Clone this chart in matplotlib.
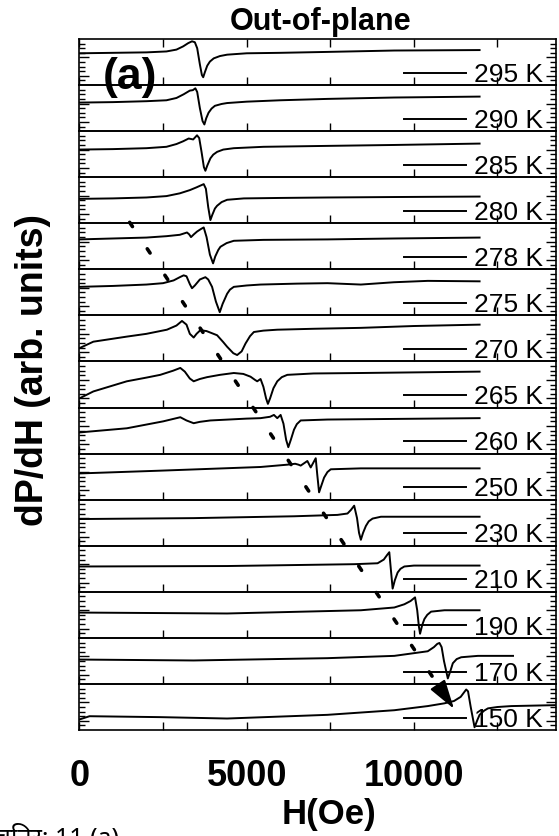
import matplotlib.pyplot as plt
from matplotlib.patches import ConnectionPatch

plt.rcParams['font.family'] = ['Liberation Sans', 'DejaVu Sans']

# ---------- data ----------
temps = [295, 290, 285, 280, 278, 275, 270, 265, 260, 250, 230, 210, 190, 170, 150]

# H in Oe, signal in panel units (0 = bottom of panel, 1 = top)
h_295 = [0, 1000, 2000, 2600, 2900, 3100, 3250, 3365, 3450, 3520, 3600, 3660, 3700, 3750, 3820,
         3900, 4015, 4200, 4415, 5000, 6000, 7415, 9415, 11965]
y_295 = [0.69, 0.70, 0.71, 0.73, 0.77, 0.84, 0.91, 0.95, 0.93, 0.80, 0.45, 0.22, 0.17, 0.28, 0.42,
         0.51, 0.58, 0.63, 0.66, 0.69, 0.70, 0.72, 0.75, 0.76]

h_290 = [0, 1000, 2000, 2600, 2900, 3115, 3300, 3390, 3465, 3520, 3600, 3680, 3735, 3790, 3860,
         3950, 4050, 4250, 4415, 5000, 6000, 7415, 9415, 11965]
y_290 = [0.62, 0.63, 0.65, 0.67, 0.72, 0.80, 0.88, 0.89, 0.93, 0.85, 0.50, 0.22, 0.145, 0.28, 0.40,
         0.49, 0.55, 0.59, 0.61, 0.64, 0.67, 0.70, 0.73, 0.75]

h_285 = [0, 1000, 2000, 2600, 2900, 3100, 3265, 3400, 3515, 3580, 3650, 3720, 3765, 3820, 3915,
         4000, 4115, 4300, 4615, 5500, 7415, 9415, 11965]
y_285 = [0.60, 0.61, 0.63, 0.66, 0.72, 0.78, 0.84, 0.82, 0.91, 0.85, 0.55, 0.22, 0.14, 0.25, 0.41,
         0.49, 0.55, 0.60, 0.63, 0.66, 0.68, 0.70, 0.73]

h_280 = [0, 1000, 2000, 2600, 3000, 3300, 3500, 3715, 3780, 3850, 3915, 3970, 4050, 4115, 4250,
         4415, 4915, 6000, 7415, 9415, 11965]
y_280 = [0.53, 0.54, 0.56, 0.59, 0.65, 0.72, 0.78, 0.85, 0.75, 0.35, 0.07, 0.18, 0.32, 0.38, 0.46,
         0.51, 0.54, 0.55, 0.56, 0.57, 0.58]

h_278 = [0, 1000, 2000, 2600, 3000, 3215, 3280, 3335, 3420, 3515, 3620, 3715, 3800, 3900, 3995,
         4060, 4150, 4215, 4400, 4615, 5500, 7415, 9415, 11965]
y_278 = [0.65, 0.67, 0.69, 0.72, 0.75, 0.80, 0.76, 0.70, 0.76, 0.82, 0.87, 0.91, 0.70, 0.32, 0.13,
         0.28, 0.42, 0.49, 0.57, 0.62, 0.64, 0.65, 0.67, 0.69]

h_275 = [0, 1000, 2000, 2500, 2815, 3000, 3115, 3200, 3300, 3365, 3450, 3600, 3765, 3850, 3965,
         4080, 4195, 4280, 4415, 4500, 4615, 5000, 5415, 6500, 7415, 8415, 9400, 10415, 11965]
y_275 = [0.62, 0.64, 0.67, 0.70, 0.76, 0.83, 0.87, 0.85, 0.68, 0.59, 0.65, 0.78, 0.83, 0.78, 0.62,
         0.30, 0.07, 0.25, 0.47, 0.56, 0.62, 0.65, 0.67, 0.69, 0.70, 0.67, 0.72, 0.75, 0.74]

h_270 = [0, 415, 1415, 2000, 2615, 2900, 3065, 3200, 3300, 3415, 3500, 3615, 3800, 4115, 4300,
         4415, 4600, 4715, 4850, 4965, 5100, 5215, 5500, 5915, 7000, 8415, 10000, 11965]
y_270 = [0.29, 0.43, 0.54, 0.60, 0.69, 0.78, 0.88, 0.80, 0.60, 0.52, 0.60, 0.68, 0.66, 0.57, 0.42,
         0.32, 0.18, 0.14, 0.22, 0.39, 0.55, 0.64, 0.67, 0.69, 0.71, 0.73, 0.77, 0.80]

h_265 = [0, 415, 1415, 2000, 2415, 2800, 3015, 3150, 3300, 3415, 3600, 3815, 4200, 4615, 4900,
         5115, 5250, 5315, 5415, 5500, 5580, 5635, 5700, 5800, 5915, 6050, 6215, 7000, 8415, 11965]
y_265 = [0.20, 0.35, 0.57, 0.65, 0.71, 0.80, 0.86, 0.78, 0.63, 0.57, 0.62, 0.66, 0.71, 0.75, 0.73,
         0.67, 0.60, 0.57, 0.62, 0.45, 0.20, 0.08, 0.20, 0.42, 0.57, 0.66, 0.71, 0.74, 0.75, 0.78]

h_260 = [0, 1415, 2500, 3015, 3200, 3415, 3600, 3915, 5000, 5415, 5700, 5815, 5915, 6015, 6100,
         6180, 6245, 6320, 6415, 6500, 6615, 7415, 11965]
y_260 = [0.46, 0.55, 0.70, 0.79, 0.72, 0.66, 0.69, 0.72, 0.76, 0.77, 0.80, 0.84, 0.77, 0.84, 0.65,
         0.30, 0.14, 0.30, 0.52, 0.64, 0.72, 0.74, 0.77]

h_250 = [0, 2415, 5415, 6215, 6450, 6550, 6615, 6815, 6915, 6990, 7065, 7110, 7165, 7230, 7315,
         7415, 7515, 8415, 11965]
y_250 = [0.57, 0.63, 0.71, 0.76, 0.78, 0.76, 0.74, 0.84, 0.70, 0.80, 0.90, 0.55, 0.16, 0.30, 0.48,
         0.60, 0.66, 0.68, 0.68]

h_230 = [0, 3415, 6415, 7715, 8015, 8120, 8215, 8300, 8360, 8415, 8480, 8565, 8650, 8765, 9015, 11965]
y_230 = [0.58, 0.60, 0.64, 0.67, 0.70, 0.78, 0.87, 0.60, 0.28, 0.13, 0.28, 0.43, 0.53, 0.59, 0.63, 0.63]

h_210 = [0, 4415, 8215, 8915, 9100, 9200, 9265, 9310, 9365, 9430, 9515, 9600, 9715, 10000, 11965]
y_210 = [0.55, 0.56, 0.60, 0.62, 0.70, 0.80, 0.86, 0.50, 0.07, 0.25, 0.42, 0.50, 0.55, 0.57, 0.57]

h_190 = [0, 4415, 8415, 9415, 9715, 9900, 10035, 10100, 10150, 10185, 10250, 10315, 10400, 10515,
         10915, 11965]
y_190 = [0.55, 0.53, 0.60, 0.66, 0.73, 0.80, 0.88, 0.60, 0.25, 0.09, 0.28, 0.41, 0.50, 0.57,
         0.60, 0.60]

h_170 = [0, 3415, 7415, 9415, 10415, 10600, 10700, 10765, 10830, 10900, 11015, 11100, 11165, 11280,
         11415, 11915, 12965]
y_170 = [0.53, 0.51, 0.56, 0.61, 0.71, 0.80, 0.87, 0.89, 0.80, 0.50, 0.12, 0.30, 0.45, 0.54,
         0.58, 0.61, 0.61]

h_150 = [0, 300, 2415, 4415, 7415, 9415, 10415, 10915, 11200, 11400, 11565, 11620, 11700, 11815,
         11900, 11965, 12100, 12215, 12500, 12915, 14215]
y_150 = [0.23, 0.30, 0.28, 0.25, 0.33, 0.43, 0.52, 0.58, 0.63, 0.72, 0.88, 0.84, 0.50, 0.06,
         0.22, 0.33, 0.42, 0.47, 0.50, 0.52, 0.54]

traces = {
    295: (h_295, y_295), 290: (h_290, y_290), 285: (h_285, y_285),
    280: (h_280, y_280), 278: (h_278, y_278), 275: (h_275, y_275),
    270: (h_270, y_270), 265: (h_265, y_265), 260: (h_260, y_260),
    250: (h_250, y_250), 230: (h_230, y_230), 210: (h_210, y_210),
    190: (h_190, y_190), 170: (h_170, y_170), 150: (h_150, y_150),
}

# zero-signal marker drawn at the right of every panel
zero_h = [9700, 11560]
zero_level = 0.27

# dotted guide across the panels (start in 280 K panel, end in 150 K panel)
guide_start = (1500, 0.02)
guide_end = (10700, 1.0)
head_end = (11200, 0.46)

xticks = [0, 2500, 5000, 7500, 10000, 12500]
xtick_labels = ['0', '', '5000', '', '10000', '']

# ---------- figure ----------
fig, axes = plt.subplots(len(temps), 1, figsize=(5.59, 8.37), dpi=100)
fig.subplots_adjust(left=0.1422, right=0.9946, top=0.9522, bottom=0.1266, hspace=0)

for i, (ax, t) in enumerate(zip(axes, temps)):
    h, y = traces[t]
    ax.plot(h, y, color='black', lw=1.4, solid_joinstyle='round')
    ax.plot(zero_h, [zero_level, zero_level], color='black', lw=1.4)
    ax.text(11800, 0.095, f"{t} K", fontsize=19, ha='left', va='baseline')

    ax.set_xlim(0, 14250)
    ax.set_ylim(0, 1)
    ax.set_xticks(xticks)
    ax.set_yticks([0.2, 0.6])
    ax.set_yticks([0.1, 0.3, 0.4, 0.5, 0.7, 0.8, 0.9], minor=True)
    ax.tick_params(axis='x', direction='in', length=6, width=1.0,
                   bottom=True, top=(i == 0), labelbottom=False)
    ax.tick_params(axis='y', which='major', direction='in', length=7, width=1.0,
                   left=True, right=True, labelleft=False)
    ax.tick_params(axis='y', which='minor', direction='in', length=4, width=1.0,
                   left=True, right=True)
    ax.patch.set_alpha(0)
    for sp in ax.spines.values():
        sp.set_linewidth(1.2)

axes[-1].set_xticklabels(xtick_labels)
axes[-1].tick_params(axis='x', labelbottom=True, pad=20, labelsize=26)
for lab in axes[-1].get_xticklabels():
    lab.set_fontweight('bold')

# dotted guide + arrow head
guide = ConnectionPatch(xyA=guide_start, coordsA=axes[3].transData,
                        xyB=guide_end, coordsB=axes[14].transData,
                        arrowstyle='-', lw=2.6, color='black',
                        linestyle=(0, (1.4, 7.4)),
                        shrinkA=0, shrinkB=0)
fig.add_artist(guide)
head = ConnectionPatch(xyA=guide_end, coordsA=axes[14].transData,
                       xyB=head_end, coordsB=axes[14].transData,
                       arrowstyle='-|>,head_length=0.9,head_width=0.27',
                       mutation_scale=20, lw=1.5, color='black',
                       shrinkA=0, shrinkB=0)
fig.add_artist(head)

fig.text(0.184, 1 - 89 / 837, "(a)", fontsize=32, fontweight='bold', va='baseline')
fig.text(321 / 559, 1 - 30 / 837, "Out-of-plane", fontsize=22, fontweight='bold',
         ha='center', va='baseline')
fig.text(329 / 559, 1 - 815 / 837, "H(Oe)", fontsize=25, fontweight='bold',
         ha='center', va='center')
fig.text(33 / 559, 1 - 370 / 837, "dP/dH (arb. units)", fontsize=27, fontweight='bold',
         rotation=90, ha='center', va='center')
fig.text(-5 / 559, 1 - 845 / 837, "चित्र: 11 (a)", fontsize=18, ha='left', va='baseline',
         family=['Noto Sans', 'DejaVu Sans', 'Liberation Sans'])

fig.savefig("out.png", dpi=100)
